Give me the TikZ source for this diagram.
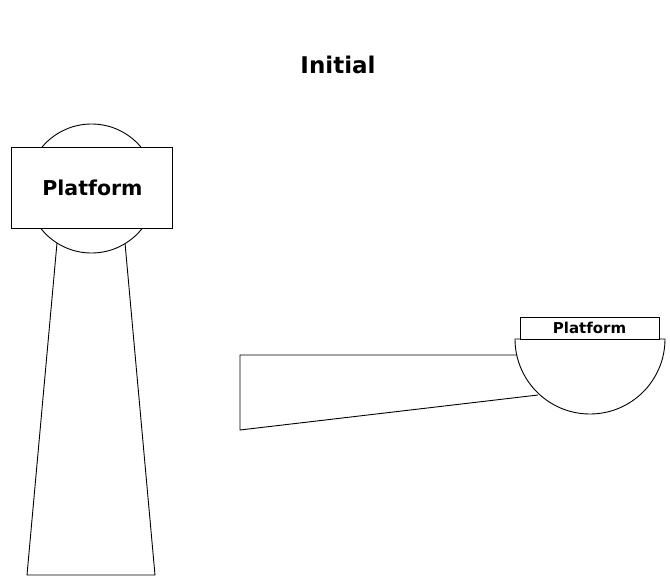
\documentclass[tikz,border=0pt]{standalone}
\usepackage{fontspec}
\setmainfont{DejaVu Sans}
\begin{document}
\begin{tikzpicture}[x=1pt,y=-1pt,
  part/.style={draw=black,line width=0.9pt,fill=white},
  lbl/.style={font=\bfseries,inner sep=0pt}]
\useasboundingbox (0,0) rectangle (670,576);
% left tower
\draw[part] (57,243) -- (27,575) -- (155,575) -- (125,243);
\draw[part] (91.5,188.5) circle[radius=64.5];
\node[part,minimum width=161pt,minimum height=81pt,inner sep=0pt] (p1) at (91.5,187.5) {};
\node[lbl,font=\bfseries\fontsize{20.5}{24}\selectfont] (t1) at (92.5,187.5) {Platform};
% right beam
\draw[part] (517,355) -- (240,355) -- (240,430) -- (538,395);
\draw[part] (515,339) arc[start angle=180,end angle=0,radius=75] -- cycle;
\node[part,minimum width=139pt,minimum height=22pt,inner sep=0pt] (p2) at (589.5,328) {};
\node[lbl,font=\bfseries\fontsize{15}{18}\selectfont] (t2) at (p2.center) {Platform};
% title
\node[lbl,font=\bfseries\fontsize{23}{28}\selectfont] (title) at (338,65) {Initial};
\end{tikzpicture}
\end{document}
